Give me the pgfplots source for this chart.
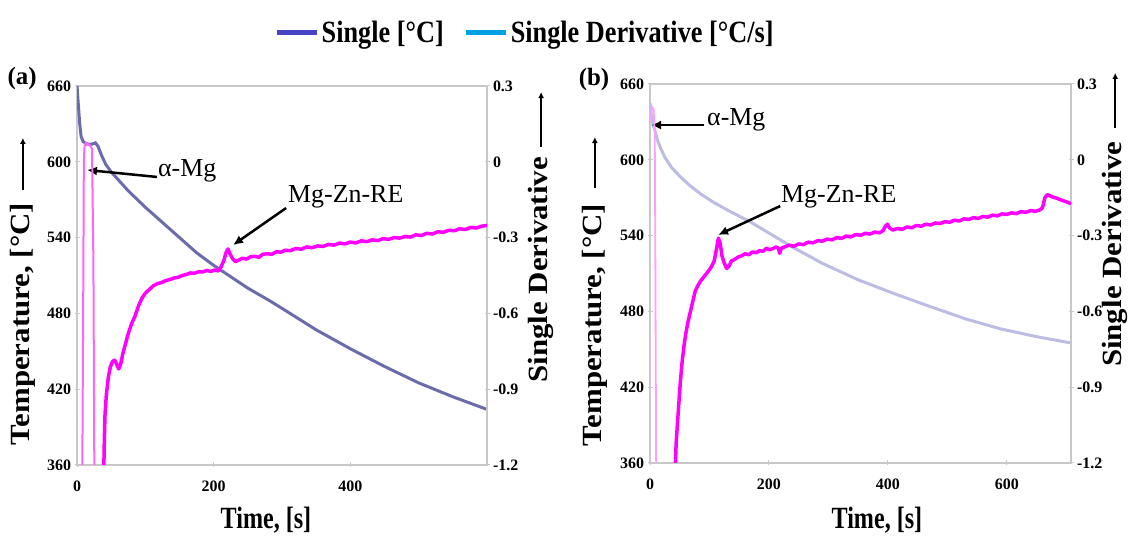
\documentclass[border=0pt]{standalone}
\usepackage{pgfplots}
\pgfplotsset{compat=1.18}
\usepackage{fontspec}
\setmainfont{Liberation Serif}
\usetikzlibrary{arrows.meta}
\definecolor{tempA}{RGB}{108,108,172}
\definecolor{tempB}{RGB}{188,188,228}
\definecolor{magA}{RGB}{255,0,255}
\definecolor{spikeA}{RGB}{255,100,255}
\definecolor{spikeB}{RGB}{255,160,255}
\definecolor{legblue}{RGB}{68,68,196}
\definecolor{legcyan}{RGB}{0,160,228}
\definecolor{framegray}{RGB}{200,200,200}

\pgfplotsset{
  base/.style={scale only axis, clip mode=individual,
    axis line style={framegray,line width=2.5bp},
    tick style={framegray,line width=1bp},
    major tick length=5bp, tick align=center,
    /pgf/number format/assume math mode=true,
    tick label style={font=\bfseries\fontsize{16}{16}\selectfont, text=black},
    label style={font=\bfseries\fontsize{31}{31}\selectfont},
    xticklabel style={yshift=-10bp},
  },
  tempax/.style={base, xmin=0, ymin=360, ymax=660, ytick={360,420,480,540,600,660},
    xtick pos=bottom, ytick pos=left},
  derax/.style={base, xmin=0, ymin=-1.2, ymax=0.3, ytick={-1.2,-0.9,-0.6,-0.3,0,0.3},
    axis x line=none, axis y line*=right,
    yticklabel style={/pgf/number format/.cd, fixed, precision=1}},
}
\tikzset{
  ann/.style={font=\fontsize{26}{26}\selectfont, anchor=base west, inner sep=0pt},
  annarrow/.style={black, line width=2.5bp, -{Latex[length=10bp,width=9bp]}},
  uparrow/.style={black, line width=2bp, -{Latex[length=6bp,width=6bp]}},
}

\begin{document}
\begin{tikzpicture}[x=1bp,y=1bp]
\useasboundingbox (0,0) rectangle (1134,543);

% ================= Panel (a) =================
\begin{axis}[tempax, at={(77bp,78bp)}, anchor=south west, width=410bp, height=379bp,
  xmax=600, xtick={0,200,400},
  ylabel={\scalebox{1}[0.9]{Temperature, [°C]}},
  ylabel style={at={(rel axis cs:-0.132,0.372)}, anchor=center},
  xlabel={\scalebox{0.78}[1]{Time, [s]}},
  xlabel style={at={(rel axis cs:0.461,-0.145)}, anchor=center},
  legend columns=2,
  legend style={draw=none, fill=none, at={(rel axis cs:1.093,1.142)}, anchor=center,
    font=\bfseries\fontsize{31}{31}\selectfont,
    /tikz/every even column/.append style={column sep=18bp}},
]
\addplot[tempA, line width=3bp, forget plot] table {
0 660
2 645
4 630
6 620
9 616
15 614
22 614
27 615
31 612
36 605
42 598
50 592
60 586
75 577
100 564
125 552
150 540
175 528
200 518
225 509
250 500
282 490
300 484
350 467
400 452
450 438
500 425
550 414
600 404
};
\addlegendimage{legend image code/.code={\draw[legblue,line width=5bp](0bp,0bp)--(40bp,0bp);}}
\addlegendentry{\scalebox{0.85}[1]{Single [°C]}}
\addlegendimage{legend image code/.code={\draw[legcyan,line width=5bp](0bp,0bp)--(40bp,0bp);}}
\addlegendentry{\scalebox{0.85}[1]{Single Derivative [°C/s]}}
\node[ann] at (axis cs:118.5,588) {α-Mg};
\draw[annarrow] (axis cs:117,588) -- (axis cs:14.6,593.5);
\node[ann] at (axis cs:308.8,567.4) {Mg-Zn-RE};
\draw[annarrow] (axis cs:306,563.4) -- (axis cs:228.3,534.1);
\draw[uparrow] (rel axis cs:-0.132,0.726) -- (rel axis cs:-0.132,0.863);
\draw[uparrow] (rel axis cs:1.132,0.839) -- (rel axis cs:1.132,0.984);
\node[font=\bfseries\fontsize{25}{25}\selectfont] at (rel axis cs:-0.134,1.021) {(a)};
\end{axis}

\begin{axis}[derax, at={(77bp,78bp)}, anchor=south west, width=410bp, height=379bp,
  xmax=600,
  ylabel={\scalebox{1}[0.9]{Single Derivative}},
  ylabel style={at={(rel axis cs:1.132,0.515)}, anchor=center},
]
\addplot[spikeA, line width=2bp] table {
7 -1.6
9 -0.6
10 0.0
11 0.06
13 0.075
16 0.07
19 0.065
22 0.05
24 -0.4
25 -1.0
26 -1.6
30 -2.0
36 -2.0
38 -1.6
};
\addplot[magA, line width=3.5bp, line join=round] table {
38 -1.6
39 -1.25
40 -1.10
41 -1.00
43 -0.92
46 -0.85
49 -0.81
52 -0.79
55 -0.785
58 -0.80
61 -0.82
64 -0.80
67 -0.76
71 -0.72
75 -0.68
80 -0.64
85 -0.61
90 -0.57
95 -0.54
100 -0.52
106 -0.505
112 -0.49
118 -0.482
124 -0.478
130 -0.470
136 -0.466
142 -0.460
148 -0.457
154 -0.450
160 -0.446
166 -0.440
172 -0.441
178 -0.435
184 -0.436
190 -0.430
196 -0.434
202 -0.428
207 -0.432
211 -0.415
215 -0.39
218 -0.36
221 -0.345
224 -0.365
228 -0.385
232 -0.395
236 -0.390
242 -0.382
248 -0.385
254 -0.376
260 -0.374
266 -0.378
272 -0.366
278 -0.364
285 -0.366
292 -0.356
298 -0.358
305 -0.350
312 -0.352
320 -0.343
328 -0.346
336 -0.337
344 -0.340
352 -0.333
360 -0.335
368 -0.327
376 -0.330
384 -0.322
392 -0.325
400 -0.318
408 -0.321
416 -0.313
424 -0.316
432 -0.309
440 -0.312
448 -0.304
456 -0.307
464 -0.300
472 -0.302
480 -0.296
488 -0.298
496 -0.289
504 -0.292
512 -0.283
520 -0.286
528 -0.277
536 -0.279
544 -0.271
552 -0.273
560 -0.265
568 -0.268
576 -0.260
584 -0.262
592 -0.255
600 -0.252
};
\end{axis}

% ================= Panel (b) =================
\begin{axis}[tempax, at={(650bp,80bp)}, anchor=south west, width=421bp, height=379bp,
  xmax=708, xtick={0,200,400,600},
  ylabel={\scalebox{1}[0.9]{Temperature, [°C]}},
  ylabel style={at={(rel axis cs:-0.131,0.364)}, anchor=center},
  xlabel={\scalebox{0.78}[1]{Time, [s]}},
  xlabel style={at={(rel axis cs:0.539,-0.150)}, anchor=center},
]
\addplot[tempB, line width=3bp] table {
0 645
2 636
5 628
9 622
13 615
18 609
25 602
36 594
50 587
66 580
85 573
108 566
135 559
168 551
200 542
243 530
290 518
350 505
411 494
470 484
531 474
591 466
650 460
708 455
};
\node[ann] at (axis cs:95.9,627.5) {α-Mg};
\draw[annarrow] (axis cs:90.8,627.5) -- (axis cs:1.7,627.5);
\node[ann] at (axis cs:220.3,565.8) {Mg-Zn-RE};
\draw[annarrow] (axis cs:219,563.4) -- (axis cs:114.4,540.5);
\draw[uparrow] (rel axis cs:-0.131,0.726) -- (rel axis cs:-0.131,0.860);
\draw[uparrow] (rel axis cs:1.105,0.884) -- (rel axis cs:1.105,1.029);
\node[font=\bfseries\fontsize{25}{25}\selectfont] at (rel axis cs:-0.133,1.013) {(b)};
\end{axis}

\begin{axis}[derax, at={(650bp,80bp)}, anchor=south west, width=421bp, height=379bp,
  xmax=708,
  ylabel={\scalebox{1}[0.9]{Single Derivative}},
  ylabel style={at={(rel axis cs:1.105,0.551)}, anchor=center},
]
\addplot[spikeB, line width=1.8bp] table {
1 0.15
3 0.21
6 0.20
8 0.10
9 -0.4
10 -1.0
11 -1.6
14 -2.0
38 -2.0
41 -1.6
};
\addplot[magA, line width=3.5bp, line join=round] table {
41 -1.6
42 -1.25
44 -1.12
46 -1.05
48 -0.98
51 -0.88
54 -0.80
57 -0.74
60 -0.69
64 -0.64
68 -0.60
72 -0.56
76 -0.52
80 -0.50
85 -0.48
90 -0.465
95 -0.45
100 -0.435
104 -0.42
108 -0.40
112 -0.35
115 -0.31
118 -0.33
121 -0.38
125 -0.41
129 -0.43
133 -0.42
137 -0.40
142 -0.395
148 -0.385
154 -0.380
160 -0.372
166 -0.376
172 -0.365
178 -0.368
184 -0.360
190 -0.362
196 -0.350
200 -0.356
206 -0.352
212 -0.345
216 -0.350
218 -0.370
221 -0.350
226 -0.345
234 -0.338
242 -0.342
250 -0.333
258 -0.336
266 -0.326
274 -0.329
282 -0.320
290 -0.322
298 -0.314
306 -0.317
314 -0.308
322 -0.311
330 -0.302
338 -0.305
346 -0.296
354 -0.299
362 -0.291
370 -0.294
378 -0.286
386 -0.289
392 -0.280
396 -0.262
399 -0.255
403 -0.270
408 -0.278
416 -0.272
424 -0.275
432 -0.266
440 -0.269
448 -0.260
456 -0.263
464 -0.255
472 -0.258
480 -0.250
488 -0.252
496 -0.245
504 -0.247
512 -0.239
520 -0.242
528 -0.234
536 -0.236
544 -0.229
552 -0.232
560 -0.224
568 -0.227
576 -0.219
584 -0.222
592 -0.214
600 -0.216
608 -0.210
616 -0.213
624 -0.205
632 -0.208
640 -0.201
648 -0.204
656 -0.198
660 -0.190
664 -0.150
668 -0.138
672 -0.142
678 -0.148
684 -0.152
690 -0.158
696 -0.163
702 -0.168
708 -0.174
};
\end{axis}
\end{tikzpicture}
\end{document}
